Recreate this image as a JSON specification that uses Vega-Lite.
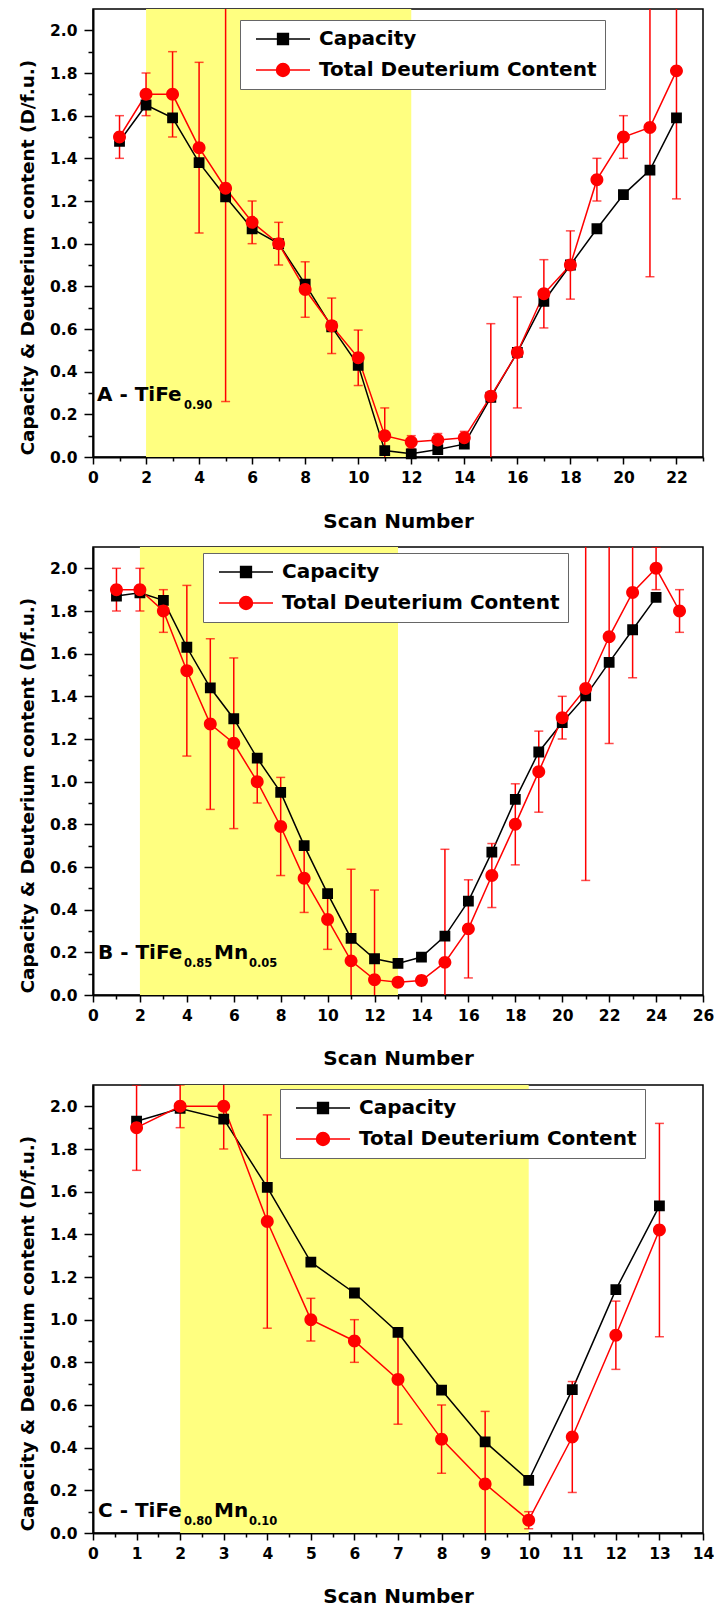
{
  "$schema": "https://vega.github.io/schema/vega-lite/v6.json",
  "background": "white",
  "padding": {"left": 17, "top": 8, "right": 4, "bottom": 2},
  "spacing": 90,
  "bounds": "flush",
  "resolve": {"scale": {"color": "independent", "shape": "independent"}},
  "datasets": {
    "bands": [
      {"panel": "A", "start": 2, "end": 12},
      {"panel": "B", "start": 2, "end": 13},
      {"panel": "C", "start": 2, "end": 10}
    ],
    "labels": [
      {"panel": "A", "main": "A - TiFe", "sub1": "0.90"},
      {"panel": "B", "main": "B - TiFe", "sub1": "0.85", "mn": "Mn", "sub2": "0.05"},
      {"panel": "C", "main": "C - TiFe", "sub1": "0.80", "mn": "Mn", "sub2": "0.10"}
    ],
    "A": [
      {"scan": 1, "series": "Capacity", "value": 1.48},
      {"scan": 2, "series": "Capacity", "value": 1.65},
      {"scan": 3, "series": "Capacity", "value": 1.59},
      {"scan": 4, "series": "Capacity", "value": 1.38},
      {"scan": 5, "series": "Capacity", "value": 1.22},
      {"scan": 6, "series": "Capacity", "value": 1.07},
      {"scan": 7, "series": "Capacity", "value": 1.0},
      {"scan": 8, "series": "Capacity", "value": 0.81},
      {"scan": 9, "series": "Capacity", "value": 0.61},
      {"scan": 10, "series": "Capacity", "value": 0.43},
      {"scan": 11, "series": "Capacity", "value": 0.03},
      {"scan": 12, "series": "Capacity", "value": 0.015},
      {"scan": 13, "series": "Capacity", "value": 0.035},
      {"scan": 14, "series": "Capacity", "value": 0.06},
      {"scan": 15, "series": "Capacity", "value": 0.28},
      {"scan": 16, "series": "Capacity", "value": 0.49},
      {"scan": 17, "series": "Capacity", "value": 0.73},
      {"scan": 18, "series": "Capacity", "value": 0.9},
      {"scan": 19, "series": "Capacity", "value": 1.07},
      {"scan": 20, "series": "Capacity", "value": 1.23},
      {"scan": 21, "series": "Capacity", "value": 1.345},
      {"scan": 22, "series": "Capacity", "value": 1.59},
      {"scan": 1, "series": "Total Deuterium Content", "value": 1.5, "err": 0.1},
      {"scan": 2, "series": "Total Deuterium Content", "value": 1.7, "err": 0.1},
      {"scan": 3, "series": "Total Deuterium Content", "value": 1.7, "err": 0.2},
      {"scan": 4, "series": "Total Deuterium Content", "value": 1.45, "err": 0.4},
      {"scan": 5, "series": "Total Deuterium Content", "value": 1.26, "err": 1.0},
      {"scan": 6, "series": "Total Deuterium Content", "value": 1.1, "err": 0.1},
      {"scan": 7, "series": "Total Deuterium Content", "value": 1.0, "err": 0.1},
      {"scan": 8, "series": "Total Deuterium Content", "value": 0.785, "err": 0.13},
      {"scan": 9, "series": "Total Deuterium Content", "value": 0.615, "err": 0.13},
      {"scan": 10, "series": "Total Deuterium Content", "value": 0.465, "err": 0.13},
      {"scan": 11, "series": "Total Deuterium Content", "value": 0.1, "err": 0.13},
      {"scan": 12, "series": "Total Deuterium Content", "value": 0.07, "err": 0.03},
      {"scan": 13, "series": "Total Deuterium Content", "value": 0.08, "err": 0.03},
      {"scan": 14, "series": "Total Deuterium Content", "value": 0.09, "err": 0.03},
      {"scan": 15, "series": "Total Deuterium Content", "value": 0.285, "err": 0.34},
      {"scan": 16, "series": "Total Deuterium Content", "value": 0.49, "err": 0.26},
      {"scan": 17, "series": "Total Deuterium Content", "value": 0.765, "err": 0.16},
      {"scan": 18, "series": "Total Deuterium Content", "value": 0.9, "err": 0.16},
      {"scan": 19, "series": "Total Deuterium Content", "value": 1.3, "err": 0.1},
      {"scan": 20, "series": "Total Deuterium Content", "value": 1.5, "err": 0.1},
      {"scan": 21, "series": "Total Deuterium Content", "value": 1.545, "err": 0.7},
      {"scan": 22, "series": "Total Deuterium Content", "value": 1.81, "err": 0.6}
    ],
    "B": [
      {"scan": 1, "series": "Capacity", "value": 1.87},
      {"scan": 2, "series": "Capacity", "value": 1.885},
      {"scan": 3, "series": "Capacity", "value": 1.85},
      {"scan": 4, "series": "Capacity", "value": 1.63},
      {"scan": 5, "series": "Capacity", "value": 1.44},
      {"scan": 6, "series": "Capacity", "value": 1.295},
      {"scan": 7, "series": "Capacity", "value": 1.11},
      {"scan": 8, "series": "Capacity", "value": 0.95},
      {"scan": 9, "series": "Capacity", "value": 0.7},
      {"scan": 10, "series": "Capacity", "value": 0.475},
      {"scan": 11, "series": "Capacity", "value": 0.265},
      {"scan": 12, "series": "Capacity", "value": 0.17},
      {"scan": 13, "series": "Capacity", "value": 0.148},
      {"scan": 14, "series": "Capacity", "value": 0.178},
      {"scan": 15, "series": "Capacity", "value": 0.276},
      {"scan": 16, "series": "Capacity", "value": 0.44},
      {"scan": 17, "series": "Capacity", "value": 0.67},
      {"scan": 18, "series": "Capacity", "value": 0.917},
      {"scan": 19, "series": "Capacity", "value": 1.139},
      {"scan": 20, "series": "Capacity", "value": 1.277},
      {"scan": 21, "series": "Capacity", "value": 1.402},
      {"scan": 22, "series": "Capacity", "value": 1.559},
      {"scan": 23, "series": "Capacity", "value": 1.712},
      {"scan": 24, "series": "Capacity", "value": 1.864},
      {"scan": 1, "series": "Total Deuterium Content", "value": 1.9, "err": 0.1},
      {"scan": 2, "series": "Total Deuterium Content", "value": 1.9, "err": 0.1},
      {"scan": 3, "series": "Total Deuterium Content", "value": 1.8, "err": 0.1},
      {"scan": 4, "series": "Total Deuterium Content", "value": 1.52, "err": 0.4},
      {"scan": 5, "series": "Total Deuterium Content", "value": 1.27, "err": 0.4},
      {"scan": 6, "series": "Total Deuterium Content", "value": 1.18, "err": 0.4},
      {"scan": 7, "series": "Total Deuterium Content", "value": 1.0, "err": 0.1},
      {"scan": 8, "series": "Total Deuterium Content", "value": 0.79, "err": 0.23},
      {"scan": 9, "series": "Total Deuterium Content", "value": 0.547, "err": 0.16},
      {"scan": 10, "series": "Total Deuterium Content", "value": 0.354, "err": 0.14},
      {"scan": 11, "series": "Total Deuterium Content", "value": 0.16, "err": 0.43},
      {"scan": 12, "series": "Total Deuterium Content", "value": 0.072, "err": 0.42},
      {"scan": 13, "series": "Total Deuterium Content", "value": 0.06, "err": 0.02},
      {"scan": 14, "series": "Total Deuterium Content", "value": 0.068, "err": 0.02},
      {"scan": 15, "series": "Total Deuterium Content", "value": 0.153, "err": 0.53},
      {"scan": 16, "series": "Total Deuterium Content", "value": 0.31, "err": 0.23},
      {"scan": 17, "series": "Total Deuterium Content", "value": 0.56, "err": 0.15},
      {"scan": 18, "series": "Total Deuterium Content", "value": 0.8, "err": 0.19},
      {"scan": 19, "series": "Total Deuterium Content", "value": 1.047, "err": 0.19},
      {"scan": 20, "series": "Total Deuterium Content", "value": 1.3, "err": 0.1},
      {"scan": 21, "series": "Total Deuterium Content", "value": 1.437, "err": 0.9},
      {"scan": 22, "series": "Total Deuterium Content", "value": 1.679, "err": 0.5},
      {"scan": 23, "series": "Total Deuterium Content", "value": 1.887, "err": 0.4},
      {"scan": 24, "series": "Total Deuterium Content", "value": 2.0, "err": 0.1},
      {"scan": 25, "series": "Total Deuterium Content", "value": 1.8, "err": 0.1}
    ],
    "C": [
      {"scan": 1, "series": "Capacity", "value": 1.93},
      {"scan": 2, "series": "Capacity", "value": 1.99},
      {"scan": 3, "series": "Capacity", "value": 1.94},
      {"scan": 4, "series": "Capacity", "value": 1.62},
      {"scan": 5, "series": "Capacity", "value": 1.27},
      {"scan": 6, "series": "Capacity", "value": 1.125},
      {"scan": 7, "series": "Capacity", "value": 0.94},
      {"scan": 8, "series": "Capacity", "value": 0.67},
      {"scan": 9, "series": "Capacity", "value": 0.427},
      {"scan": 10, "series": "Capacity", "value": 0.247},
      {"scan": 11, "series": "Capacity", "value": 0.672},
      {"scan": 12, "series": "Capacity", "value": 1.141},
      {"scan": 13, "series": "Capacity", "value": 1.533},
      {"scan": 1, "series": "Total Deuterium Content", "value": 1.9, "err": 0.2},
      {"scan": 2, "series": "Total Deuterium Content", "value": 2.0, "err": 0.1},
      {"scan": 3, "series": "Total Deuterium Content", "value": 2.0, "err": 0.2},
      {"scan": 4, "series": "Total Deuterium Content", "value": 1.46, "err": 0.5},
      {"scan": 5, "series": "Total Deuterium Content", "value": 1.0, "err": 0.1},
      {"scan": 6, "series": "Total Deuterium Content", "value": 0.9, "err": 0.1},
      {"scan": 7, "series": "Total Deuterium Content", "value": 0.72, "err": 0.21},
      {"scan": 8, "series": "Total Deuterium Content", "value": 0.44, "err": 0.16},
      {"scan": 9, "series": "Total Deuterium Content", "value": 0.23, "err": 0.34},
      {"scan": 10, "series": "Total Deuterium Content", "value": 0.06, "err": 0.04},
      {"scan": 11, "series": "Total Deuterium Content", "value": 0.45, "err": 0.26},
      {"scan": 12, "series": "Total Deuterium Content", "value": 0.927, "err": 0.16},
      {"scan": 13, "series": "Total Deuterium Content", "value": 1.42, "err": 0.5}
    ]
  },
  "vconcat": [
    {
      "width": 610, "height": 448,
      "resolve": {"axis": {"x": "independent", "y": "independent"}},
      "layer": [
        {"data": {"name": "bands"}, "transform": [{"filter": "datum.panel === 'A'"}],
         "mark": {"type": "rect", "color": "#ffff80"},
         "encoding": {
           "x": {"field": "start", "type": "quantitative", "axis": {"orient": "bottom", "values": [1,3,5,7,9,11,13,15,17,19,21,23], "labels": false, "domain": false, "tickSize": 4, "title": null}},
           "x2": {"field": "end"},
           "y": {"datum": 0, "type": "quantitative", "axis": {"orient": "left", "values": [0.1,0.3,0.5,0.7,0.9,1.1,1.3,1.5,1.7,1.9], "labels": false, "domain": false, "tickSize": 5, "title": null}},
           "y2": {"datum": 2.1}}},
        {"data": {"name": "A"}, "mark": {"type": "line", "strokeWidth": 1.5},
         "encoding": {
           "x": {"field": "scan", "type": "quantitative", "scale": {"domain": [0, 23], "nice": false},
                 "axis": {"orient": "bottom", "values": [0,2,4,6,8,10,12,14,16,18,20,22], "format": "d", "tickSize": 7,
                          "labelPadding": 6, "labelFlush": false, "labelOverlap": false,
                          "title": "Scan Number", "titleFontSize": 20, "titleY": 70, "titleBaseline": "alphabetic"}},
           "y": {"field": "value", "type": "quantitative", "scale": {"domain": [0, 2.1], "nice": false},
                 "axis": {"orient": "left", "values": [0,0.2,0.4,0.6,0.8,1,1.2,1.4,1.6,1.8,2], "format": ".1f", "tickSize": 9,
                          "labelPadding": 7, "labelOverlap": false, "labelFlush": false,
                          "title": "Capacity & Deuterium content (D/f.u.)", "titleFontSize": 18.5,
                          "titleX": -60, "titleY": 446, "titleAngle": 270, "titleAlign": "left", "titleBaseline": "alphabetic"}},
           "color": {"field": "series", "type": "nominal", "scale": {"domain": ["Capacity", "Total Deuterium Content"], "range": ["black", "red"]},
                     "legend": {"title": null, "orient": "none", "legendX": 147, "legendY": 11}}
         }},
        {"data": {"name": "A"}, "transform": [{"filter": "isValid(datum.err)"}],
         "mark": {"type": "errorbar", "color": "red", "thickness": 1.5, "ticks": {"size": 9}, "clip": true},
         "encoding": {"x": {"field": "scan", "type": "quantitative", "axis": null}, "y": {"field": "value", "type": "quantitative", "axis": null}, "yError": {"field": "err"}}},
        {"data": {"name": "A"}, "mark": {"type": "point", "filled": true, "opacity": 1, "size": 2916},
         "encoding": {
           "x": {"field": "scan", "type": "quantitative", "axis": null},
           "y": {"field": "value", "type": "quantitative", "axis": null},
           "color": {"field": "series", "type": "nominal", "scale": {"domain": ["Capacity", "Total Deuterium Content"], "range": ["black", "red"]}, "legend": null},
           "shape": {"field": "series", "type": "nominal", "scale": {"domain": ["Capacity", "Total Deuterium Content"], "range": ["M-1,0H1M-0.2,-0.2H0.2V0.2H-0.2Z", "M-1,0H1M0.24,0A0.24,0.24,0,1,1,-0.24,0A0.24,0.24,0,1,1,0.24,0Z"]}, "legend": null}
         }},
        {"data": {"name": "labels"}, "transform": [{"filter": "datum.panel === 'A'"}],
         "mark": {"type": "text", "align": "left", "baseline": "alphabetic", "fontWeight": "bold", "fontSize": 20, "dx": 4},
         "encoding": {"x": {"datum": 0, "axis": null}, "y": {"datum": 0.2625, "axis": null}, "text": {"field": "main"}}},
        {"data": {"name": "labels"}, "transform": [{"filter": "datum.panel === 'A'"}],
         "mark": {"type": "text", "align": "left", "baseline": "alphabetic", "fontWeight": "bold", "fontSize": 11.5, "dx": 91, "dy": 8},
         "encoding": {"x": {"datum": 0, "axis": null}, "y": {"datum": 0.2625, "axis": null}, "text": {"field": "sub1"}}}
      ]
    },
    {
      "width": 610, "height": 448,
      "resolve": {"axis": {"x": "independent", "y": "independent"}},
      "layer": [
        {"data": {"name": "bands"}, "transform": [{"filter": "datum.panel === 'B'"}],
         "mark": {"type": "rect", "color": "#ffff80"},
         "encoding": {
           "x": {"field": "start", "type": "quantitative", "axis": {"orient": "bottom", "values": [1,3,5,7,9,11,13,15,17,19,21,23,25], "labels": false, "domain": false, "tickSize": 4, "title": null}},
           "x2": {"field": "end"},
           "y": {"datum": 0, "type": "quantitative", "axis": {"orient": "left", "values": [0.1,0.3,0.5,0.7,0.9,1.1,1.3,1.5,1.7,1.9], "labels": false, "domain": false, "tickSize": 5, "title": null}},
           "y2": {"datum": 2.1}}},
        {"data": {"name": "B"}, "mark": {"type": "line", "strokeWidth": 1.5},
         "encoding": {
           "x": {"field": "scan", "type": "quantitative", "scale": {"domain": [0, 26], "nice": false},
                 "axis": {"orient": "bottom", "values": [0,2,4,6,8,10,12,14,16,18,20,22,24,26], "format": "d", "tickSize": 7,
                          "labelPadding": 6, "labelFlush": false, "labelOverlap": false,
                          "title": "Scan Number", "titleFontSize": 20, "titleY": 69, "titleBaseline": "alphabetic"}},
           "y": {"field": "value", "type": "quantitative", "scale": {"domain": [0, 2.1], "nice": false},
                 "axis": {"orient": "left", "values": [0,0.2,0.4,0.6,0.8,1,1.2,1.4,1.6,1.8,2], "format": ".1f", "tickSize": 9,
                          "labelPadding": 7, "labelOverlap": false, "labelFlush": false,
                          "title": "Capacity & Deuterium content (D/f.u.)", "titleFontSize": 18.5,
                          "titleX": -60, "titleY": 446, "titleAngle": 270, "titleAlign": "left", "titleBaseline": "alphabetic"}},
           "color": {"field": "series", "type": "nominal", "scale": {"domain": ["Capacity", "Total Deuterium Content"], "range": ["black", "red"]},
                     "legend": {"title": null, "orient": "none", "legendX": 110, "legendY": 6}}
         }},
        {"data": {"name": "B"}, "transform": [{"filter": "isValid(datum.err)"}],
         "mark": {"type": "errorbar", "color": "red", "thickness": 1.5, "ticks": {"size": 9}, "clip": true},
         "encoding": {"x": {"field": "scan", "type": "quantitative", "axis": null}, "y": {"field": "value", "type": "quantitative", "axis": null}, "yError": {"field": "err"}}},
        {"data": {"name": "B"}, "mark": {"type": "point", "filled": true, "opacity": 1, "size": 2916},
         "encoding": {
           "x": {"field": "scan", "type": "quantitative", "axis": null},
           "y": {"field": "value", "type": "quantitative", "axis": null},
           "color": {"field": "series", "type": "nominal", "scale": {"domain": ["Capacity", "Total Deuterium Content"], "range": ["black", "red"]}, "legend": null},
           "shape": {"field": "series", "type": "nominal", "scale": {"domain": ["Capacity", "Total Deuterium Content"], "range": ["M-1,0H1M-0.2,-0.2H0.2V0.2H-0.2Z", "M-1,0H1M0.24,0A0.24,0.24,0,1,1,-0.24,0A0.24,0.24,0,1,1,0.24,0Z"]}, "legend": null}
         }},
        {"data": {"name": "labels"}, "transform": [{"filter": "datum.panel === 'B'"}],
         "mark": {"type": "text", "align": "left", "baseline": "alphabetic", "fontWeight": "bold", "fontSize": 20, "dx": 5},
         "encoding": {"x": {"datum": 0, "axis": null}, "y": {"datum": 0.17, "axis": null}, "text": {"field": "main"}}},
        {"data": {"name": "labels"}, "transform": [{"filter": "datum.panel === 'B'"}],
         "mark": {"type": "text", "align": "left", "baseline": "alphabetic", "fontWeight": "bold", "fontSize": 11.5, "dx": 91, "dy": 8},
         "encoding": {"x": {"datum": 0, "axis": null}, "y": {"datum": 0.17, "axis": null}, "text": {"field": "sub1"}}},
        {"data": {"name": "labels"}, "transform": [{"filter": "datum.panel === 'B'"}],
         "mark": {"type": "text", "align": "left", "baseline": "alphabetic", "fontWeight": "bold", "fontSize": 20, "dx": 121},
         "encoding": {"x": {"datum": 0, "axis": null}, "y": {"datum": 0.17, "axis": null}, "text": {"field": "mn"}}},
        {"data": {"name": "labels"}, "transform": [{"filter": "datum.panel === 'B'"}],
         "mark": {"type": "text", "align": "left", "baseline": "alphabetic", "fontWeight": "bold", "fontSize": 11.5, "dx": 156, "dy": 8},
         "encoding": {"x": {"datum": 0, "axis": null}, "y": {"datum": 0.17, "axis": null}, "text": {"field": "sub2"}}}
      ]
    },
    {
      "width": 610, "height": 448,
      "resolve": {"axis": {"x": "independent", "y": "independent"}},
      "layer": [
        {"data": {"name": "bands"}, "transform": [{"filter": "datum.panel === 'C'"}],
         "mark": {"type": "rect", "color": "#ffff80"},
         "encoding": {
           "x": {"field": "start", "type": "quantitative", "axis": {"orient": "bottom", "values": [0.5,1.5,2.5,3.5,4.5,5.5,6.5,7.5,8.5,9.5,10.5,11.5,12.5,13.5], "labels": false, "domain": false, "tickSize": 4, "title": null}},
           "x2": {"field": "end"},
           "y": {"datum": 0, "type": "quantitative", "axis": {"orient": "left", "values": [0.1,0.3,0.5,0.7,0.9,1.1,1.3,1.5,1.7,1.9], "labels": false, "domain": false, "tickSize": 5, "title": null}},
           "y2": {"datum": 2.1}}},
        {"data": {"name": "C"}, "mark": {"type": "line", "strokeWidth": 1.5},
         "encoding": {
           "x": {"field": "scan", "type": "quantitative", "scale": {"domain": [0, 14], "nice": false},
                 "axis": {"orient": "bottom", "values": [0,1,2,3,4,5,6,7,8,9,10,11,12,13,14], "format": "d", "tickSize": 7,
                          "labelPadding": 6, "labelFlush": false, "labelOverlap": false,
                          "title": "Scan Number", "titleFontSize": 20, "titleY": 69, "titleBaseline": "alphabetic"}},
           "y": {"field": "value", "type": "quantitative", "scale": {"domain": [0, 2.1], "nice": false},
                 "axis": {"orient": "left", "values": [0,0.2,0.4,0.6,0.8,1,1.2,1.4,1.6,1.8,2], "format": ".1f", "tickSize": 9,
                          "labelPadding": 7, "labelOverlap": false, "labelFlush": false,
                          "title": "Capacity & Deuterium content (D/f.u.)", "titleFontSize": 18.5,
                          "titleX": -60, "titleY": 446, "titleAngle": 270, "titleAlign": "left", "titleBaseline": "alphabetic"}},
           "color": {"field": "series", "type": "nominal", "scale": {"domain": ["Capacity", "Total Deuterium Content"], "range": ["black", "red"]},
                     "legend": {"title": null, "orient": "none", "legendX": 187, "legendY": 4}}
         }},
        {"data": {"name": "C"}, "transform": [{"filter": "isValid(datum.err)"}],
         "mark": {"type": "errorbar", "color": "red", "thickness": 1.5, "ticks": {"size": 9}, "clip": true},
         "encoding": {"x": {"field": "scan", "type": "quantitative", "axis": null}, "y": {"field": "value", "type": "quantitative", "axis": null}, "yError": {"field": "err"}}},
        {"data": {"name": "C"}, "mark": {"type": "point", "filled": true, "opacity": 1, "size": 2916},
         "encoding": {
           "x": {"field": "scan", "type": "quantitative", "axis": null},
           "y": {"field": "value", "type": "quantitative", "axis": null},
           "color": {"field": "series", "type": "nominal", "scale": {"domain": ["Capacity", "Total Deuterium Content"], "range": ["black", "red"]}, "legend": null},
           "shape": {"field": "series", "type": "nominal", "scale": {"domain": ["Capacity", "Total Deuterium Content"], "range": ["M-1,0H1M-0.2,-0.2H0.2V0.2H-0.2Z", "M-1,0H1M0.24,0A0.24,0.24,0,1,1,-0.24,0A0.24,0.24,0,1,1,0.24,0Z"]}, "legend": null}
         }},
        {"data": {"name": "labels"}, "transform": [{"filter": "datum.panel === 'C'"}],
         "mark": {"type": "text", "align": "left", "baseline": "alphabetic", "fontWeight": "bold", "fontSize": 20, "dx": 5},
         "encoding": {"x": {"datum": 0, "axis": null}, "y": {"datum": 0.075, "axis": null}, "text": {"field": "main"}}},
        {"data": {"name": "labels"}, "transform": [{"filter": "datum.panel === 'C'"}],
         "mark": {"type": "text", "align": "left", "baseline": "alphabetic", "fontWeight": "bold", "fontSize": 11.5, "dx": 91, "dy": 8},
         "encoding": {"x": {"datum": 0, "axis": null}, "y": {"datum": 0.075, "axis": null}, "text": {"field": "sub1"}}},
        {"data": {"name": "labels"}, "transform": [{"filter": "datum.panel === 'C'"}],
         "mark": {"type": "text", "align": "left", "baseline": "alphabetic", "fontWeight": "bold", "fontSize": 20, "dx": 121},
         "encoding": {"x": {"datum": 0, "axis": null}, "y": {"datum": 0.075, "axis": null}, "text": {"field": "mn"}}},
        {"data": {"name": "labels"}, "transform": [{"filter": "datum.panel === 'C'"}],
         "mark": {"type": "text", "align": "left", "baseline": "alphabetic", "fontWeight": "bold", "fontSize": 11.5, "dx": 156, "dy": 8},
         "encoding": {"x": {"datum": 0, "axis": null}, "y": {"datum": 0.075, "axis": null}, "text": {"field": "sub2"}}}
      ]
    }
  ],
  "config": {
    "font": "DejaVu Sans",
    "view": {"stroke": "black", "strokeWidth": 1.5},
    "text": {"font": "DejaVu Sans", "color": "black"},
    "axis": {"labelFont": "DejaVu Sans", "labelFontWeight": "bold", "labelFontSize": 15.5, "labelColor": "black",
             "titleFont": "DejaVu Sans", "titleFontWeight": "bold", "titleColor": "black",
             "domainColor": "black", "domainWidth": 2, "tickColor": "black", "tickWidth": 1.5, "grid": false},
    "legend": {"labelFont": "DejaVu Sans", "labelFontWeight": "bold", "labelFontSize": 20, "labelColor": "black",
               "labelLimit": 400, "labelOffset": 8, "symbolSize": 2916, "symbolOffset": 7, "symbolStrokeWidth": 1.5,
               "clipHeight": 22, "rowPadding": 9, "padding": 8, "strokeColor": "#666666", "fillColor": "white", "cornerRadius": 0}
  }
}
